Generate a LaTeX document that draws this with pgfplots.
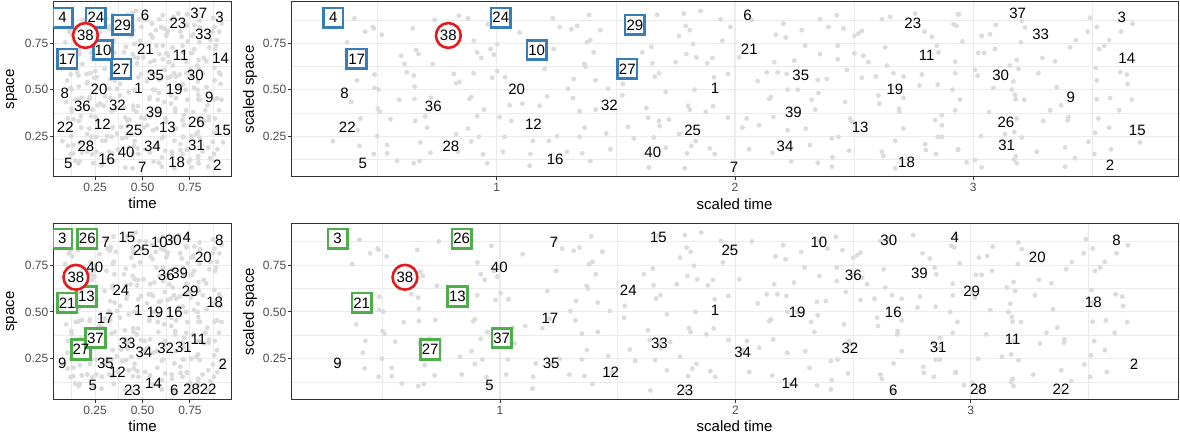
\documentclass[border=0pt]{standalone}
\usepackage{pgfplots}
\pgfplotsset{compat=1.18}
\usepackage{pgfplotstable}
\usepackage{fontspec}
\setmainfont{Liberation Sans}
\definecolor{gridc}{HTML}{EBEBEB}
\definecolor{dotc}{HTML}{DCDCDC}
\definecolor{boxblue}{HTML}{377EB8}
\definecolor{boxgreen}{HTML}{4DAF4A}
\definecolor{circred}{HTML}{E41A1C}
\definecolor{tickc}{HTML}{4D4D4D}
\definecolor{framec}{HTML}{333333}

\pgfplotstableread{
x y
0.403 0.885
0.480 0.838
0.484 0.831
0.448 0.813
0.518 0.796
0.648 0.831
0.739 0.876
0.841 0.899
0.879 0.885
0.963 0.853
0.372 0.755
0.662 0.714
0.672 0.692
0.599 0.683
0.613 0.639
0.732 0.639
0.904 0.764
0.918 0.701
0.935 0.671
0.974 0.719
0.988 0.689
1.002 0.746
0.487 0.582
0.414 0.550
0.487 0.510
0.504 0.501
0.623 0.594
0.652 0.576
0.655 0.517
0.820 0.585
0.830 0.535
0.844 0.542
0.903 0.589
0.981 0.564
1.002 0.600
1.036 0.567
0.389 0.434
0.591 0.446
0.655 0.450
0.725 0.457
0.886 0.451
0.893 0.460
0.946 0.393
0.501 0.398
0.509 0.382
0.428 0.345
0.554 0.341
0.658 0.332
0.700 0.357
0.708 0.296
0.879 0.291
0.918 0.357
1.012 0.353
1.054 0.416
1.061 0.332
0.312 0.223
0.424 0.198
0.498 0.250
0.540 0.202
0.540 0.157
0.484 0.154
0.582 0.118
0.652 0.104
0.676 0.116
0.680 0.216
0.722 0.161
0.830 0.261
0.837 0.166
0.893 0.222
0.925 0.246
0.942 0.152
0.960 0.104
1.026 0.166
1.033 0.246
0.417 0.282
1.236 0.885
1.387 0.903
1.264 0.838
1.313 0.826
1.338 0.844
1.435 0.821
1.096 0.808
1.673 0.903
1.785 0.910
1.855 0.924
1.939 0.879
1.981 0.838
1.793 0.844
1.810 0.821
1.765 0.790
1.379 0.755
1.393 0.767
1.239 0.719
1.407 0.701
1.649 0.731
1.611 0.701
1.796 0.692
1.824 0.746
1.838 0.674
1.883 0.642
1.905 0.671
1.947 0.764
1.368 0.639
1.373 0.624
1.201 0.612
1.653 0.642
1.751 0.648
1.681 0.589
1.663 0.571
1.323 0.558
1.415 0.550
1.467 0.505
1.530 0.532
1.299 0.505
1.709 0.487
1.830 0.500
1.912 0.567
1.971 0.585
1.211 0.464
1.320 0.455
1.107 0.425
1.180 0.414
1.348 0.384
1.415 0.393
1.527 0.469
1.628 0.402
1.803 0.414
1.810 0.393
1.877 0.380
1.908 0.412
1.971 0.350
1.636 0.350
1.681 0.332
1.684 0.304
1.723 0.339
1.551 0.300
1.369 0.296
1.460 0.264
1.348 0.246
1.253 0.250
1.219 0.225
1.152 0.225
1.575 0.238
1.659 0.243
1.765 0.261
1.835 0.223
1.817 0.198
1.894 0.184
1.477 0.179
1.359 0.157
1.141 0.154
1.295 0.166
1.709 0.188
1.799 0.157
1.915 0.154
1.393 0.116
1.138 0.091
1.639 0.081
1.789 0.077
2.070 0.876
2.203 0.856
2.280 0.821
2.357 0.879
2.427 0.901
2.455 0.830
2.392 0.838
2.171 0.796
2.213 0.781
2.501 0.790
2.518 0.803
2.532 0.817
2.616 0.879
2.651 0.892
2.756 0.910
2.795 0.813
2.917 0.853
2.935 0.906
2.826 0.785
2.294 0.737
2.357 0.692
2.431 0.737
2.431 0.664
2.501 0.696
2.539 0.683
2.560 0.648
2.630 0.728
2.637 0.630
2.847 0.737
2.854 0.701
2.924 0.651
2.017 0.674
2.165 0.648
2.249 0.657
2.469 0.607
2.532 0.564
2.591 0.571
2.665 0.589
2.707 0.571
2.784 0.582
2.851 0.528
2.924 0.589
2.095 0.546
2.133 0.594
2.179 0.594
2.217 0.585
2.347 0.553
2.385 0.558
2.221 0.500
2.263 0.500
2.350 0.482
2.151 0.460
2.144 0.451
2.322 0.446
2.462 0.434
2.602 0.469
2.606 0.425
2.707 0.455
2.774 0.523
2.913 0.500
2.689 0.398
2.689 0.380
2.868 0.362
2.924 0.389
2.336 0.393
2.049 0.345
2.101 0.309
2.031 0.296
2.161 0.353
2.221 0.282
2.297 0.291
2.483 0.345
2.490 0.327
2.707 0.291
2.840 0.336
2.868 0.309
2.851 0.246
2.868 0.246
2.406 0.238
2.434 0.246
2.672 0.225
2.059 0.180
2.157 0.161
2.315 0.202
2.479 0.172
2.616 0.166
2.623 0.143
2.798 0.207
2.801 0.175
2.844 0.154
2.935 0.175
2.235 0.113
2.347 0.107
2.409 0.136
2.406 0.086
2.672 0.077
2.940 0.906
2.930 0.844
3.094 0.849
3.035 0.790
3.070 0.799
3.200 0.755
3.217 0.835
3.203 0.871
3.490 0.888
3.518 0.838
3.480 0.813
3.620 0.813
3.668 0.856
3.430 0.767
3.406 0.728
3.570 0.767
3.550 0.737
3.528 0.719
3.091 0.719
3.021 0.698
3.046 0.698
2.954 0.760
3.182 0.660
3.154 0.630
3.189 0.612
3.343 0.653
3.290 0.671
3.007 0.607
3.018 0.576
3.273 0.589
3.514 0.617
3.518 0.550
3.616 0.594
3.644 0.582
3.648 0.532
3.168 0.544
3.161 0.500
3.175 0.473
3.178 0.448
3.214 0.446
3.084 0.510
3.350 0.514
2.944 0.446
3.066 0.380
3.322 0.389
3.368 0.416
3.518 0.448
3.574 0.455
3.665 0.446
3.612 0.389
3.399 0.353
3.396 0.336
3.294 0.332
3.182 0.345
3.172 0.273
3.203 0.243
3.133 0.261
3.032 0.250
3.525 0.345
3.570 0.296
3.511 0.268
3.483 0.220
3.700 0.216
2.937 0.179
3.385 0.189
3.266 0.166
3.578 0.179
3.508 0.154
3.178 0.143
3.172 0.125
3.182 0.104
2.972 0.109
3.007 0.122
3.035 0.082
3.385 0.086
3.427 0.131
}\dotdata

\pgfplotstableread{
x y lab
0.314 0.888 4
1.017 0.888 24
1.580 0.849 29
0.797 0.792 38
0.412 0.666 17
1.168 0.714 10
1.548 0.612 27
0.361 0.479 8
1.084 0.500 20
0.734 0.411 36
1.473 0.416 32
0.373 0.300 22
1.154 0.314 12
1.822 0.282 25
0.808 0.197 28
1.655 0.163 40
1.245 0.127 16
0.438 0.104 5
1.916 0.505 1
2.053 0.901 6
2.060 0.719 21
2.276 0.576 35
2.245 0.377 39
2.210 0.193 34
1.996 0.083 7
2.746 0.858 23
2.804 0.683 11
2.671 0.502 19
2.525 0.295 13
2.720 0.107 18
3.186 0.910 37
3.283 0.796 33
3.115 0.576 30
3.137 0.324 26
3.140 0.198 31
3.409 0.460 9
3.623 0.888 3
3.644 0.669 14
3.688 0.279 15
3.574 0.091 2
}\toplabs

\pgfplotstableread{
x y lab
0.310 0.891 3
0.837 0.891 26
1.229 0.874 7
1.673 0.895 15
0.997 0.740 40
0.596 0.685 38
0.819 0.583 13
0.412 0.548 21
1.545 0.614 24
1.212 0.464 17
1.007 0.361 37
0.703 0.299 27
1.677 0.331 33
0.309 0.224 9
1.217 0.228 35
1.470 0.180 12
0.955 0.107 5
1.786 0.080 23
1.914 0.509 1
1.977 0.829 25
2.355 0.874 10
2.652 0.882 30
2.933 0.900 4
3.620 0.882 8
3.283 0.793 20
2.501 0.694 36
2.782 0.705 39
3.004 0.610 29
3.521 0.551 18
2.263 0.500 19
2.671 0.500 16
2.031 0.287 34
2.487 0.304 32
2.862 0.313 31
3.178 0.352 11
3.694 0.219 2
2.232 0.121 14
2.671 0.080 6
3.033 0.085 28
3.384 0.089 22
}\botlabs

\pgfplotstableread{
x y
0.314 0.888
1.017 0.888
1.580 0.849
0.412 0.666
1.168 0.714
1.548 0.612
}\topboxes
\pgfplotstableread{
x y
0.797 0.792
}\topcirc
\pgfplotstableread{
x y
0.310 0.891
0.837 0.891
0.412 0.548
0.819 0.583
0.703 0.299
1.007 0.361
}\botboxes
\pgfplotstableread{
x y
0.596 0.685
}\botcirc

\pgfplotsset{
  panel/.style={
    scale only axis, anchor=south west,
    axis line style={framec, line width=0.5pt},
    tick align=outside, xtick pos=left, ytick pos=left,
    major tick length=1.7pt, minor tick length=0pt,
    tick style={framec, line width=0.5pt},
    grid=both,
    major grid style={gridc, line width=0.55pt},
    minor grid style={gridc, line width=0.3pt},
    ytick={0.25,0.5,0.75}, yticklabels={0.25,0.50,0.75},
    minor ytick={0.125,0.375,0.625,0.875},
    tick label style={font=\fontsize{6}{7}\selectfont, text=tickc},
    yticklabel style={inner sep=0.6pt},
    xticklabel style={inner sep=1.2pt},
    clip marker paths=true,
  },
  smallp/.style={panel, width=89.2pt, xmin=0.03, xmax=0.97,
    xtick={0.25,0.5,0.75}, xticklabels={0.25,0.50,0.75},
    minor xtick={0.125,0.375,0.625,0.875}},
  widep/.style={panel, width=443.35pt,
    xtick={1,2,3}, xticklabels={1,2,3},
    minor xtick={0.5,1.5,2.5,3.5}},
  dotsty/.style={only marks, mark=*, mark size=1pt, color=dotc, mark options={draw=none, fill=dotc}},
  boxsty/.style={only marks, mark=square*, mark size=4.9pt, mark options={draw=#1, fill=white, line width=1.35pt}},
  circsty/.style={only marks, mark=*, mark size=6.2pt, mark options={draw=circred, fill=white, line width=1.3pt}},
  labsty/.style={only marks, mark=none, nodes near coords, point meta=explicit symbolic,
    nodes near coords align=center,
    every node near coord/.append style={font=\fontsize{7.5}{9}\selectfont, text=black, inner sep=0pt, anchor=center}},
}

\begin{document}
\begin{tikzpicture}
\path[use as bounding box] (0,0) rectangle (590pt,219pt);

% top left
\begin{axis}[smallp, name=tl, at={(26.65pt,130.5pt)}, height=87.65pt, ymin=0.030, ymax=0.974]
\addplot[dotsty] table[x expr=\thisrow{x}/4, y=y] {\dotdata};
\addplot[boxsty=boxblue] table[x expr=\thisrow{x}/4, y=y] {\topboxes};
\addplot[circsty] table[x expr=\thisrow{x}/4, y=y] {\topcirc};
\addplot[labsty] table[x expr=\thisrow{x}/4, y=y, meta=lab] {\toplabs};
\end{axis}

% top right
\begin{axis}[widep, name=tr, at={(145.65pt,130.5pt)}, height=87.65pt, xmin=0.138, xmax=3.859, ymin=0.030, ymax=0.974]
\addplot[dotsty] table[x=x, y=y] {\dotdata};
\addplot[boxsty=boxblue] table[x=x, y=y] {\topboxes};
\addplot[circsty] table[x=x, y=y] {\topcirc};
\addplot[labsty] table[x=x, y=y, meta=lab] {\toplabs};
\end{axis}

% bottom left
\begin{axis}[smallp, name=bl, at={(26.65pt,19pt)}, height=88.35pt, ymin=0.030, ymax=0.973]
\addplot[dotsty] table[x expr=\thisrow{x}/4, y=y] {\dotdata};
\addplot[boxsty=boxgreen] table[x expr=\thisrow{x}/4, y=y] {\botboxes};
\addplot[circsty] table[x expr=\thisrow{x}/4, y=y] {\botcirc};
\addplot[labsty] table[x expr=\thisrow{x}/4, y=y, meta=lab] {\botlabs};
\end{axis}

% bottom right
\begin{axis}[widep, name=br, at={(145.65pt,19pt)}, height=88.35pt, xmin=0.113, xmax=3.881, ymin=0.030, ymax=0.973]
\addplot[dotsty] table[x=x, y=y] {\dotdata};
\addplot[boxsty=boxgreen] table[x=x, y=y] {\botboxes};
\addplot[circsty] table[x=x, y=y] {\botcirc};
\addplot[labsty] table[x=x, y=y, meta=lab] {\botlabs};
\end{axis}

\begin{scope}[every node/.style={font=\fontsize{7.5}{9}\selectfont, text=black, inner sep=0pt}]
\node at ([yshift=-13.2pt]tl.south) {time};
\node at ([yshift=-13.4pt]tr.south) {scaled time};
\node at ([yshift=-13.2pt]bl.south) {time};
\node at ([yshift=-13.2pt]br.south) {scaled time};
\node[rotate=90] at ([xshift=-20.8pt]tl.west) {space};
\node[rotate=90] at ([xshift=-20.6pt]tr.west) {scaled space};
\node[rotate=90] at ([xshift=-20.8pt]bl.west) {space};
\node[rotate=90] at ([xshift=-20.6pt]br.west) {scaled space};
\end{scope}
\end{tikzpicture}
\end{document}
